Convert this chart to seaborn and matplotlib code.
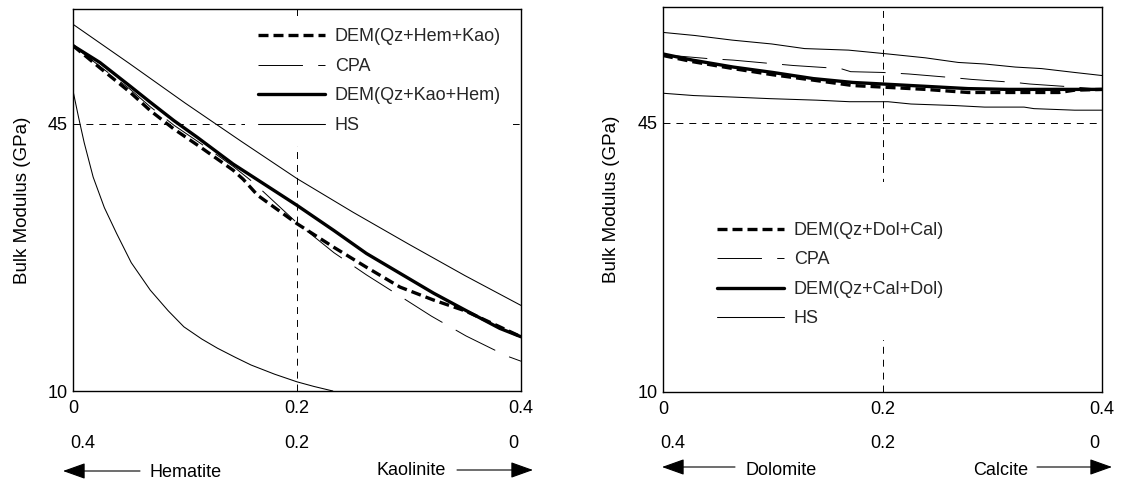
import matplotlib
matplotlib.use("Agg")
import matplotlib.pyplot as plt
import seaborn as sns

# ---------------- data ----------------
x_ticks = [0, 0.2, 0.4]
x_tick_labels = ["0", "0.2", "0.4"]
y_ticks = [10, 45]
row2_labels = ["0.4", "0.2", "0"]

# Left panel: Qz + Hematite + Kaolinite
L_dem_hk_x = [0, 0.024, 0.051, 0.069, 0.090, 0.114, 0.143, 0.152, 0.165, 0.2, 0.233, 0.262, 0.292, 0.322, 0.35, 0.381, 0.4]
L_dem_hk_y = [55.2, 52.3, 49.1, 46.7, 44.3, 41.9, 38.9, 37.7, 35.6, 31.9, 28.8, 26.2, 23.6, 21.9, 20.5, 18.4, 17.1]
L_cpa_x = [0, 0.024, 0.051, 0.069, 0.09, 0.114, 0.143, 0.161, 0.2, 0.233, 0.262, 0.29, 0.32, 0.351, 0.387, 0.4]
L_cpa_y = [55.2, 52.5, 49.5, 47.2, 44.8, 42.4, 39.4, 37.3, 32.0, 28.1, 25.2, 22.6, 19.8, 17.2, 14.6, 13.9]
L_dem_kh_x = [0, 0.024, 0.051, 0.069, 0.090, 0.111, 0.143, 0.161, 0.2, 0.233, 0.262, 0.292, 0.322, 0.35, 0.381, 0.4]
L_dem_kh_y = [55.2, 53.0, 49.9, 47.8, 45.4, 43.2, 39.7, 38.0, 34.3, 31.0, 28.0, 25.4, 22.8, 20.6, 18.2, 17.1]
L_hs_up_x = [0, 0.05, 0.1, 0.15, 0.2, 0.25, 0.3, 0.35, 0.4]
L_hs_up_y = [58.0, 52.9, 47.7, 42.7, 37.8, 33.4, 29.2, 25.1, 21.2]
L_hs_lo_x = [0, 0.005, 0.01, 0.018, 0.028, 0.039, 0.052, 0.069, 0.085, 0.099, 0.115, 0.129, 0.145, 0.159, 0.18, 0.2, 0.215, 0.232]
L_hs_lo_y = [49.3, 45.8, 42.5, 38.0, 34.0, 30.6, 26.8, 23.2, 20.5, 18.4, 16.8, 15.6, 14.4, 13.4, 12.2, 11.2, 10.6, 10.0]

# Right panel: Qz + Dolomite + Calcite
R_dem_dc_x = [0, 0.027, 0.064, 0.1, 0.137, 0.173, 0.2, 0.239, 0.278, 0.315, 0.361, 0.375, 0.4]
R_dem_dc_y = [53.7, 52.9, 52.0, 51.2, 50.5, 49.8, 49.6, 49.3, 48.9, 48.9, 48.9, 49.2, 49.3]
R_cpa_x = [0, 0.041, 0.064, 0.103, 0.119, 0.162, 0.171, 0.2, 0.224, 0.266, 0.281, 0.321, 0.334, 0.375, 0.4]
R_cpa_y = [53.8, 53.3, 53.1, 52.6, 52.4, 52.0, 51.6, 51.5, 51.3, 50.8, 50.6, 50.2, 50.0, 49.6, 49.3]
R_dem_cd_x = [0, 0.027, 0.064, 0.100, 0.137, 0.173, 0.200, 0.239, 0.278, 0.315, 0.375, 0.4]
R_dem_cd_y = [53.9, 53.1, 52.2, 51.5, 50.7, 50.2, 50.0, 49.7, 49.4, 49.3, 49.3, 49.3]
R_hs_up_x = [0, 0.029, 0.063, 0.099, 0.129, 0.169, 0.205, 0.239, 0.269, 0.293, 0.321, 0.345, 0.375, 0.4]
R_hs_up_y = [56.7, 56.3, 55.7, 55.2, 54.6, 54.4, 53.9, 53.4, 52.8, 52.6, 52.2, 52.0, 51.5, 51.1]
R_hs_lo_x = [0, 0.028, 0.064, 0.097, 0.140, 0.170, 0.205, 0.226, 0.266, 0.293, 0.329, 0.338, 0.375, 0.4]
R_hs_lo_y = [48.8, 48.5, 48.3, 48.1, 47.9, 47.7, 47.7, 47.4, 47.2, 47.0, 47.0, 46.8, 46.6, 46.6]

L_labels = ["DEM(Qz+Hem+Kao)", "CPA", "DEM(Qz+Kao+Hem)", "HS"]
R_labels = ["DEM(Qz+Dol+Cal)", "CPA", "DEM(Qz+Cal+Dol)", "HS"]
L_bottom = ["Hematite", "Kaolinite"]
R_bottom = ["Dolomite", "Calcite"]
y_label = "Bulk Modulus (GPa)"

# ---------------- style ----------------
sns.set_theme(style="white")
plt.rcParams['font.family'] = ['Liberation Sans', 'DejaVu Sans']
plt.rcParams['lines.scale_dashes'] = False

W, H = 1135, 483
fig = plt.figure(figsize=(W / 100, H / 100), dpi=100)


def px_axes(l, t, r, b):
    return fig.add_axes([l / W, 1 - b / H, (r - l) / W, (b - t) / H])


axL = px_axes(73, 9, 521, 391)
axR = px_axes(663, 7, 1102, 392)

STY_DEM_DASH = dict(lw=2.4, linestyle=(0, (7.2, 3.6)))
STY_CPA = dict(lw=0.7, linestyle=(0, (32, 11)))
STY_DEM_SOLID = dict(lw=2.4, linestyle='-')
STY_HS = dict(lw=0.75, linestyle='-')


def line(ax, xs, ys, sty, label=None):
    sns.lineplot(x=xs, y=ys, ax=ax, color='black', estimator=None, sort=False,
                 label=label, legend=False, **sty)


def draw_panel(ax, d1, cpa, d2, hsu, hsl, labels, legend_anchor, extra_title=False):
    line(ax, *d1, STY_DEM_DASH, labels[0])
    line(ax, *cpa, STY_CPA, labels[1])
    line(ax, *d2, STY_DEM_SOLID, labels[2])
    line(ax, *hsu, STY_HS, labels[3])
    line(ax, *hsl, STY_HS)
    ax.set_xlim(0, 0.4)
    ax.set_ylim(10, 60)
    ax.set_xticks(x_ticks)
    ax.set_xticklabels(x_tick_labels)
    ax.set_yticks(y_ticks)
    ax.set_axisbelow(True)
    ax.grid(True, color='black', lw=0.7, linestyle=(0, (5, 4.3)))
    ax.tick_params(axis='x', length=0, labelsize=13, pad=6.5, colors='black')
    ax.tick_params(axis='y', length=0, labelsize=13, pad=3.6, colors='black')
    for s in ax.spines.values():
        s.set_color('black')
        s.set_linewidth(1.0)
    ax.set_ylabel(y_label, fontsize=13.5, color='black')
    h, l = ax.get_legend_handles_labels()
    kw = dict(title=" ", title_fontsize=12) if extra_title else {}
    leg = ax.legend(h, l, loc='upper left', bbox_to_anchor=legend_anchor, frameon=True,
                    facecolor='white', edgecolor='none', framealpha=1, fancybox=False,
                    fontsize=13, handlelength=3.7, handletextpad=0.55, labelspacing=0.69,
                    borderpad=0.69, borderaxespad=0, **kw)
    leg.set_zorder(1.5)
    # second row of composition labels
    has = ['left', 'center', 'right']
    offs = [-3, 0, -3]
    for x, lab, ha, o in zip(x_ticks, row2_labels, has, offs):
        ax.annotate(lab, xy=(x, 0), xycoords=('data', 'axes fraction'),
                    xytext=(o * 0.72, -52 * 0.72), textcoords='offset points',
                    ha=ha, va='center', fontsize=13, color='black')


draw_panel(axL, (L_dem_hk_x, L_dem_hk_y), (L_cpa_x, L_cpa_y), (L_dem_kh_x, L_dem_kh_y),
           (L_hs_up_x, L_hs_up_y), (L_hs_lo_x, L_hs_lo_y), L_labels,
           ((245.5 - 73) / 448, 1 - (16 - 9) / 382))
draw_panel(axR, (R_dem_dc_x, R_dem_dc_y), (R_cpa_x, R_cpa_y), (R_dem_cd_x, R_dem_cd_y),
           (R_hs_up_x, R_hs_up_y), (R_hs_lo_x, R_hs_lo_y), R_labels,
           ((704.5 - 663) / 439, 1 - (182 - 7) / 385), extra_title=True)

axL.yaxis.set_label_coords((31 - 73) / 448, 0.5)
axR.yaxis.set_label_coords((620 - 663) / 439, 0.5)


def arrow(tail, tip, y):
    fig.add_artist(matplotlib.patches.FancyArrowPatch(
        (tail, H - y), (tip, H - y), transform=None,
        arrowstyle='-|>,head_length=14,head_width=5', lw=0.8, color='black',
        shrinkA=0, shrinkB=0, mutation_scale=1))


def ftext(x, y, s):
    fig.text(x / W, 1 - y / H, s, ha='center', va='baseline', fontsize=13, color='black')


arrow(140, 63, 471)
ftext(186, 477, L_bottom[0])
ftext(411, 475, L_bottom[1])
arrow(457, 533, 470)

arrow(735, 662, 467)
ftext(781, 475, R_bottom[0])
ftext(1001, 475, R_bottom[1])
arrow(1037, 1112, 467)

fig.savefig("out.png", dpi=100)
